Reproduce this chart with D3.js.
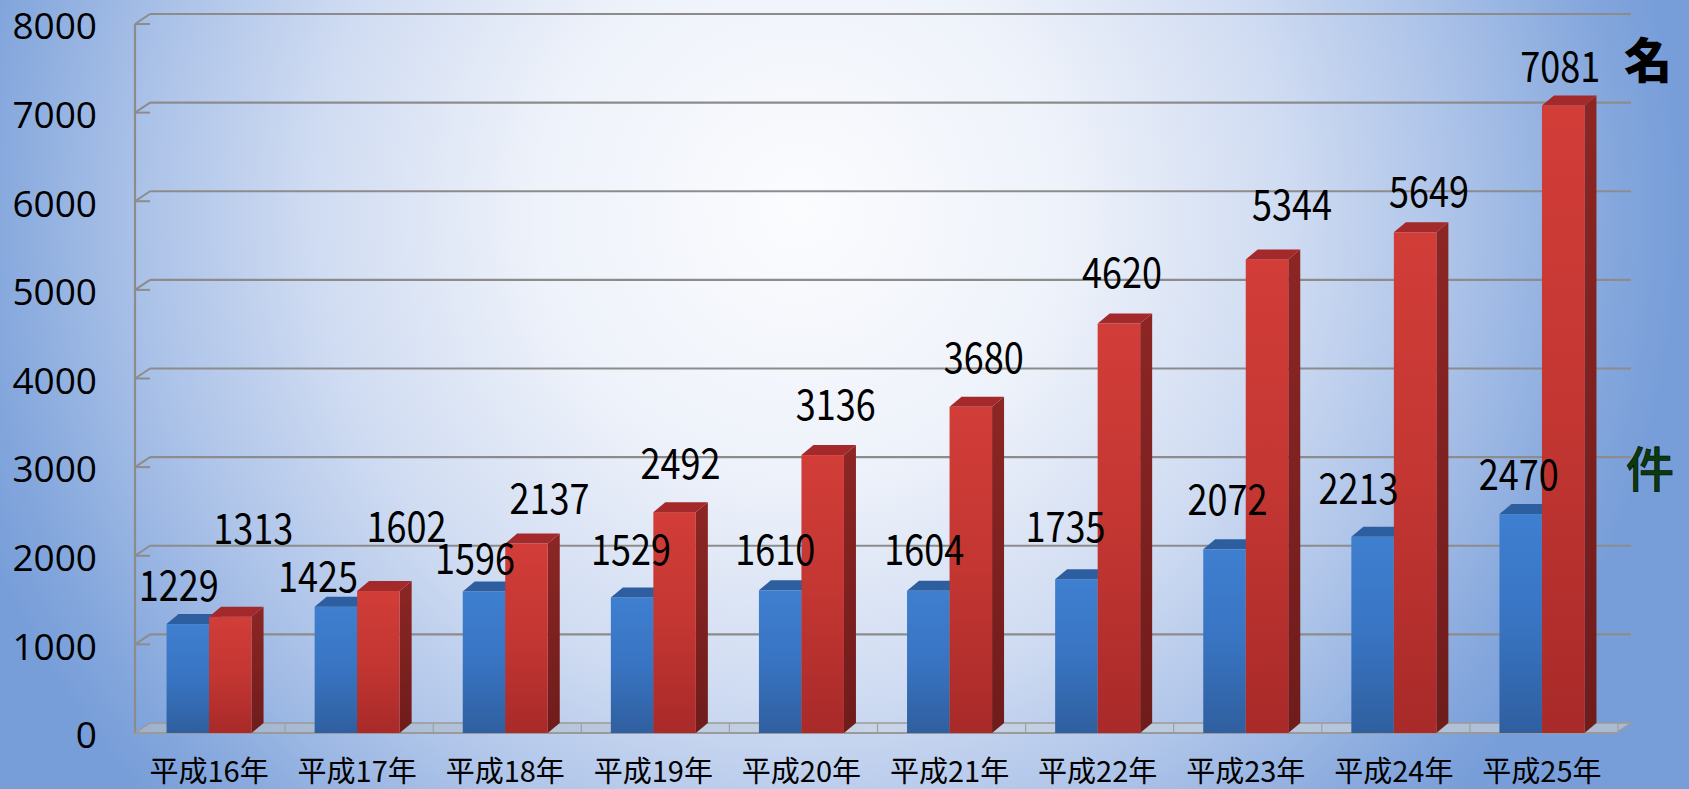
<!DOCTYPE html>
<html><head><meta charset="utf-8">
<script src="https://cdn.jsdelivr.net/npm/d3@7"></script>
<style>html,body{margin:0;padding:0;overflow:hidden;background:#fff}</style>
</head><body>
<svg id="c" width="1689" height="789"></svg>
<script>
// ---- data ----
const categories = ["平成16年","平成17年","平成18年","平成19年","平成20年","平成21年","平成22年","平成23年","平成24年","平成25年"];
const series = ["件","名"];
const casesValues = [1229,1425,1596,1529,1610,1604,1735,2072,2213,2470];
const personsValues = [1313,1602,2137,2492,3136,3680,4620,5344,5649,7081];
const yTickValues = [0,1000,2000,3000,4000,5000,6000,7000,8000];
const unitPersons = "名";
const unitCases = "件";

// ---- layout (label nudges in px, not data) ----
const blueLabelDx = [-9,-18,-9,-1,-5,-4,-11,3,-14,-2];
const blueLabelDy = [23,15,18,32,25,26,37,34,33,24];
const redLabelDx = [23,28,23,6,13,13,3,25,14,-3];
const redLabelDy = [73,49,30,33,35,34,36,39,25,23];

const W = 1689, H = 789;
const x0 = 135, x1 = 1616, yBase = 733, yTopPx = 24;
const wallDx = 15, wallDy = 10, barDx = 12, barDy = 10;

const svg = d3.select("#c");
const defs = svg.append("defs");

// background
const bg = defs.append("radialGradient").attr("id","bg").attr("gradientUnits","userSpaceOnUse")
  .attr("cx",800).attr("cy",210).attr("r",880);
[[0,"#fbfcfe"],[0.3,"#eef2fa"],[0.55,"#d0dcf2"],[0.75,"#abc2e8"],[0.93,"#83a6dc"],[1,"#789ed9"]]
  .forEach(([o,c])=>bg.append("stop").attr("offset",o).attr("stop-color",c));
svg.append("rect").attr("width",W).attr("height",H).attr("fill","url(#bg)");

function vgrad(id, stops, horizontal){
  const g = defs.append("linearGradient").attr("id",id)
    .attr("x1",0).attr("y1",0).attr("x2",horizontal?1:0).attr("y2",horizontal?0:1);
  stops.forEach(([o,c])=>g.append("stop").attr("offset",o).attr("stop-color",c));
}
vgrad("blueFront",[[0,"#3f7fd0"],[0.5,"#3874c2"],[1,"#2f5f9f"]]);
vgrad("redFront",[[0,"#d23d38"],[0.5,"#c33632"],[1,"#a82a29"]]);
vgrad("redSide",[[0,"#8c2624"],[1,"#6f1c1b"]]);
vgrad("blueSide",[[0,"#2c5c99"],[1,"#224a7c"]]);
vgrad("floorG",[[0,"#9fb2cd"],[0.5,"#c9d5e6"],[1,"#a9bad3"]], true);

const x = d3.scaleBand().domain(categories).range([x0,x1]).paddingInner(0).paddingOuter(0);
const xs = d3.scaleBand().domain(series).range([0,x.bandwidth()]).paddingInner(0).paddingOuter(0.742);
const y = d3.scaleLinear().domain([0,8000]).range([yBase,yTopPx]);

const gridColor = "#8c8c8c";

// floor
svg.append("polygon")
  .attr("points",[[x0,yBase],[x1,yBase],[x1+wallDx,yBase-wallDy],[x0+wallDx,yBase-wallDy]].map(p=>p.join(",")).join(" "))
  .attr("fill","url(#floorG)").attr("stroke","#9a9a9a").attr("stroke-width",1.5);
svg.append("g").selectAll("line").data(d3.range(1,categories.length+1)).join("line")
  .attr("x1",i=>x0+x.step()*i+2).attr("x2",i=>x0+x.step()*i+2)
  .attr("y1",yBase-wallDy).attr("y2",yBase)
  .attr("stroke","#a0a0a0").attr("stroke-width",1.2);

// gridlines
const grid = svg.append("g");
const gv = yTickValues.filter(v=>v>0);
grid.selectAll("line.g").data(gv).join("line").attr("class","g")
  .attr("x1",x0+wallDx).attr("x2",x1+wallDx)
  .attr("y1",d=>y(d)-wallDy).attr("y2",d=>y(d)-wallDy)
  .attr("stroke",gridColor).attr("stroke-width",2.2);
grid.selectAll("line.d").data(gv).join("line").attr("class","d")
  .attr("x1",x0).attr("x2",x0+wallDx)
  .attr("y1",d=>y(d)).attr("y2",d=>y(d)-wallDy)
  .attr("stroke",gridColor).attr("stroke-width",2);
grid.selectAll("line.t").data(yTickValues).join("line").attr("class","t")
  .attr("x1",x0).attr("x2",x0+wallDx)
  .attr("y1",d=>y(d)).attr("y2",d=>y(d))
  .attr("stroke",gridColor).attr("stroke-width",2);
svg.append("line").attr("x1",x0).attr("x2",x0).attr("y1",y(8000)).attr("y2",yBase)
  .attr("stroke",gridColor).attr("stroke-width",2.2);
svg.append("line").attr("x1",x0).attr("x2",x1).attr("y1",yBase).attr("y2",yBase)
  .attr("stroke","#9a9a9a").attr("stroke-width",2);

// y axis labels
const yAxis = d3.axisLeft(y).tickValues(yTickValues).tickSize(0).tickPadding(38).tickFormat(d3.format("d"));
svg.append("g").attr("transform",`translate(${x0},3)`).call(yAxis)
  .call(g=>g.select(".domain").remove())
  .selectAll("text").attr("font-family","'Open Sans', 'Liberation Sans', sans-serif")
  .attr("font-size",37).attr("fill","#000");

// x axis labels
const xAxis = d3.axisBottom(x).tickSize(0).tickPadding(28);
svg.append("g").attr("transform",`translate(0,${yBase})`).call(xAxis)
  .call(g=>g.select(".domain").remove())
  .selectAll("text").attr("font-family","'Noto Sans CJK JP', sans-serif")
  .attr("font-size",29).attr("fill","#000");

// bars
const rows = categories.map((c,i)=>({c,i,vals:[casesValues[i],personsValues[i]]}));
const fills = [["url(#blueFront)","url(#blueSide)","#2d5e9f"],["url(#redFront)","url(#redSide)","#a3292a"]];
const bars = svg.append("g");
rows.forEach(r=>{
  series.forEach((s,si)=>{
    const v = r.vals[si];
    const xl = x(r.c)+xs(s), xr = xl+xs.bandwidth(), yt = y(v);
    const g = bars.append("g");
    g.append("polygon").attr("points",[[xr,yt],[xr+barDx,yt-barDy],[xr+barDx,yBase-barDy],[xr,yBase]].map(p=>p.join(",")).join(" "))
      .attr("fill",fills[si][1]);
    g.append("rect").attr("x",xl).attr("y",yt).attr("width",xr-xl).attr("height",yBase-yt).attr("fill",fills[si][0]);
    g.append("polygon").attr("points",[[xl,yt],[xl+barDx,yt-barDy],[xr+barDx,yt-barDy],[xr,yt]].map(p=>p.join(",")).join(" "))
      .attr("fill",fills[si][2]);
  });
});

// value labels
const labels = svg.append("g").attr("font-family","'Noto Sans CJK JP', sans-serif").attr("font-size",42).attr("fill","#000").attr("text-anchor","middle");
rows.forEach(r=>{
  series.forEach((s,si)=>{
    const v = r.vals[si];
    const cx = x(r.c)+xs(s)+xs.bandwidth()/2;
    const dx = si===0?blueLabelDx[r.i]:redLabelDx[r.i];
    const dy = si===0?blueLabelDy[r.i]:redLabelDy[r.i];
    labels.append("text").attr("x",cx+dx).attr("y",y(v)-dy)
      .attr("textLength",80).attr("lengthAdjust","spacingAndGlyphs").text(v);
  });
});

// unit marks
svg.append("text").attr("x",1648).attr("y",57).attr("text-anchor","middle").attr("dominant-baseline","central")
  .attr("font-family","'Noto Sans CJK JP', sans-serif").attr("font-weight",900).attr("font-size",48).attr("fill","#000").text(unitPersons);
svg.append("text").attr("x",1650).attr("y",466).attr("text-anchor","middle").attr("dominant-baseline","central")
  .attr("font-family","'Noto Sans CJK JP', sans-serif").attr("font-weight",500).attr("font-size",48).attr("fill","#0b3a0b")
  .attr("stroke","#000").attr("stroke-width",0.6).text(unitCases);
</script>
</body></html>
